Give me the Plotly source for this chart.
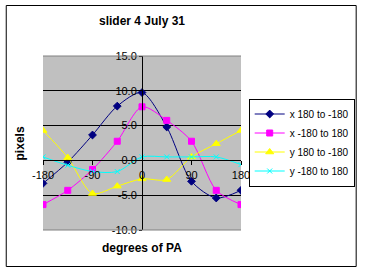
import plotly.graph_objects as go

degrees = [-180, -135, -90, -45, 0, 45, 90, 135, 180]
x_180_to_m180 = [-3.3, -0.25, 3.65, 7.8, 9.75, 4.8, -3.0, -5.4, -4.3]
x_m180_to_180 = [-6.35, -4.3, -1.3, 2.75, 7.7, 5.75, 2.75, -4.3, -6.35]
y_180_to_m180 = [4.3, 0.4, -4.75, -3.7, -2.65, -2.75, 0.5, 2.4, 4.3]
y_m180_to_180 = [0.5, -0.7, -1.6, -1.6, 0.5, 0.5, 0.5, 0.5, -0.6]

series = [
    ("x 180 to -180", x_180_to_m180, "#000080", "diamond", 6),
    ("x -180 to 180", x_m180_to_180, "#FF00FF", "square", 6),
    ("y 180 to -180", y_180_to_m180, "#FFFF00", "triangle-up", 7),
    ("y -180 to 180", y_m180_to_180, "#00FFFF", "x-thin", 5),
]

x_ticks = [-180, -90, 0, 90, 180]
y_ticks = [-10, -5, 0, 5, 10, 15]

fig = go.Figure()
for name, vals, color, sym, size in series:
    fig.add_trace(go.Scatter(
        x=degrees, y=vals, name=name, mode="lines+markers",
        line=dict(color=color, width=1, shape="spline", smoothing=0.8),
        marker=dict(symbol=sym, size=size, color=color,
                    line=dict(color=color, width=1)),
    ))

W, H = 367, 272
L, R, T, B = 43, 122, 56, 42
pw, ph = W - L - R, H - T - B

def px_x(p):
    return (p - L) / pw

def px_y(p):
    return (H - B - p) / ph

fig.update_layout(
    width=W, height=H,
    margin=dict(l=L, r=R, t=T, b=B),
    paper_bgcolor="white",
    plot_bgcolor="#C0C0C0",
    font=dict(family="Liberation Sans, Arial, sans-serif", size=11, color="black"),
    title=dict(text="<b>slider 4 July 31</b>", x=0.5, xanchor="center",
               xref="paper", y=1 - 21 / H, yanchor="middle",
               font=dict(size=12)),
    showlegend=True,
    legend=dict(x=px_x(361), y=px_y(142.5), xanchor="right", yanchor="middle",
                bgcolor="white", bordercolor="black", borderwidth=1,
                font=dict(size=10), tracegroupgap=0, itemwidth=30),
    xaxis=dict(range=[-180, 180], tickvals=x_ticks,
               ticktext=[str(v) for v in x_ticks],
               showgrid=False, zeroline=False, showline=True,
               linecolor="black", linewidth=1, ticks="outside", ticklen=4,
               tickcolor="black", anchor="free",
               position=10 / 25, tickfont=dict(size=11)),
    yaxis=dict(range=[-10, 15], tickvals=y_ticks,
               ticktext=[f"{v:.1f}" for v in y_ticks],
               showgrid=True, gridcolor="black", gridwidth=1,
               zeroline=False, showline=True, linecolor="black", linewidth=1,
               ticks="outside", ticklen=3, tickcolor="black",
               anchor="free", position=0.5, tickfont=dict(size=11)),
    annotations=[
        dict(text="<b>pixels</b>", xref="paper", yref="paper",
             x=px_x(20), y=px_y(143), textangle=-90, showarrow=False,
             font=dict(size=12), xanchor="center", yanchor="middle"),
        dict(text="<b>degrees of PA</b>", xref="paper", yref="paper",
             x=px_x(144), y=px_y(248), showarrow=False,
             font=dict(size=12), xanchor="center", yanchor="middle"),
    ],
    shapes=[
        dict(type="rect", xref="paper", yref="paper",
             x0=px_x(5.5), x1=px_x(362.5), y0=px_y(266.5), y1=px_y(5.5),
             line=dict(color="black", width=1), layer="below"),
        dict(type="line", xref="paper", yref="paper", x0=0, x1=1, y0=1, y1=1,
             line=dict(color="#808080", width=1)),
        dict(type="line", xref="paper", yref="paper", x0=0, x1=1, y0=0, y1=0,
             line=dict(color="#808080", width=1)),
    ],
)

fig.write_html("out.html")
